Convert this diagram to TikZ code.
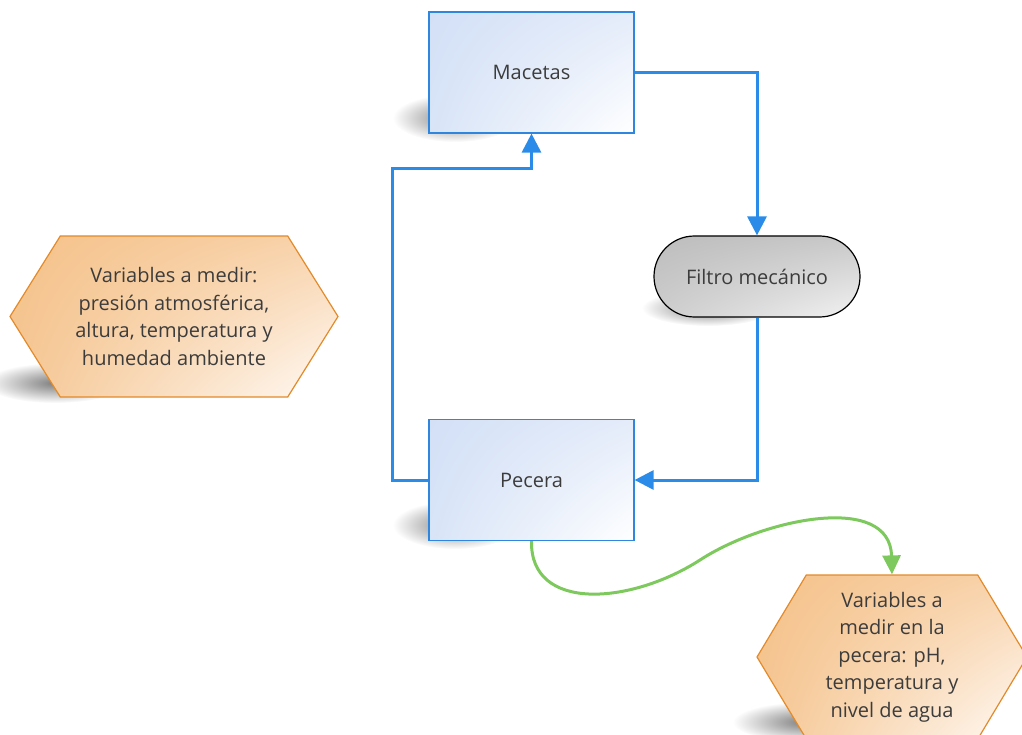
\documentclass[tikz,border=0pt]{standalone}
\usepackage{fontspec}
\setmainfont{Open Sans}
\usetikzlibrary{shapes.misc,shapes.symbols,fadings,arrows.meta,shadings}

\definecolor{flowblue}{HTML}{2A8CE8}
\definecolor{flowgreen}{HTML}{7DC95E}
\definecolor{boxedge}{HTML}{2E86DE}
\definecolor{hexedge}{HTML}{E38A2A}
\definecolor{inkgray}{HTML}{3C3C3C}
\definecolor{boxtl}{HTML}{D3E0F6}
\definecolor{boxtr}{HTML}{E4ECFA}
\definecolor{boxbl}{HTML}{D8E4F7}
\definecolor{hextl}{HTML}{F5C28A}
\definecolor{hextr}{HTML}{F8D3AC}
\definecolor{hexbl}{HTML}{F5C693}
\definecolor{hexbr}{HTML}{FFFBF7}
\definecolor{graytl}{HTML}{BDBDBD}
\definecolor{graytr}{HTML}{C8C8C8}
\definecolor{graybl}{HTML}{CDCDCD}
\definecolor{graybr}{HTML}{F2F2F2}

\tikzfading[name=softedge, inner color=transparent!0, outer color=transparent!100]

\begin{document}
\begin{tikzpicture}[x=1pt,y=-1pt,
  font=\fontsize{20}{27.5}\selectfont, text=inkgray,
  castshadow/.style={fill=black, opacity=0.5, path fading=softedge},
  process/.style={draw=boxedge, line width=1.2pt, shade,
      upper left=boxtl, upper right=boxtr, lower left=boxbl, lower right=white,
      minimum width=205pt, minimum height=121pt, inner sep=0pt},
  terminal/.style={rounded rectangle, draw=black, line width=1.2pt, shade,
      upper left=graytl, upper right=graytr, lower left=graybl, lower right=graybr,
      minimum width=206pt, minimum height=81pt, inner sep=0pt},
  prep/.style={signal, signal to=west and east, draw=hexedge, line width=1.2pt,
      shade, upper left=hextl, upper right=hextr, lower left=hexbl, lower right=hexbr,
      align=center, inner sep=0pt},
  flow/.style={draw=flowblue, line width=3pt,
      -{Triangle[length=19pt,width=19pt]}},
  feed/.style={draw=flowgreen, line width=3pt,
      -{Triangle[length=19pt,width=18pt]}}
]
\useasboundingbox (0,0) rectangle (1022,735);

% soft shadows cast to the lower left of each shape
\fill[castshadow] (455,118) ellipse (62 and 24);
\fill[castshadow] (455,525) ellipse (62 and 24);
\fill[castshadow] (55,383) ellipse (70 and 20);
\fill[castshadow] (708,308) ellipse (66 and 18);
\fill[castshadow] (805,722) ellipse (72 and 20);

% main water loop
\node[process] (mac) at (531.5,72.5) {Macetas};
\node[process] (pec) at (531.5,480) {Pecera};
\node[terminal] (fil) at (757,276.5) {Filtro mecánico};

% measured variables
\node[prep, minimum width=328pt, minimum height=161pt, signal pointer angle=116]
  (amb) at (174,316.5)
  {Variables a medir:\\presión atmosférica,\\altura, temperatura y\\humedad ambiente};
\node[prep, minimum width=270pt, minimum height=164pt, signal pointer angle=118]
  (tank) at (892,657)
  {Variables a\\medir en la\\pecera: pH,\\temperatura y\\nivel de agua};

% connectors
\coordinate (bend) at (392,169);
\draw[flow] (mac.east) -| (fil.north);
\draw[flow] (fil.south) |- (pec.east);
\draw[flow] (pec.west) -| (bend) -| (mac.south);
\draw[feed] (pec.south) .. controls (530,612) and (630,605) .. (700,560)
  .. controls (763,519) and (890,492) .. (tank.north);
\end{tikzpicture}
\end{document}
